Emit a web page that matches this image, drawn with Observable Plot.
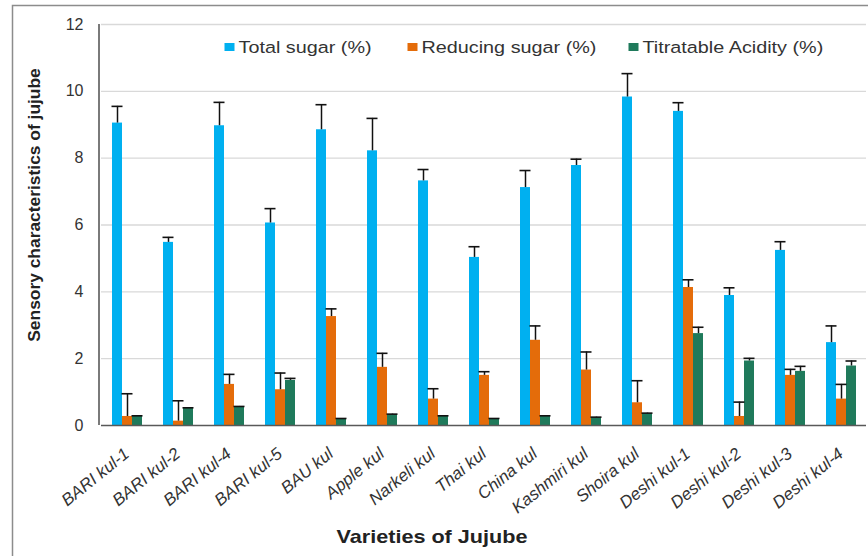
<!DOCTYPE html>
<html>
<head>
<meta charset="utf-8">
<script src="https://cdn.jsdelivr.net/npm/d3@7"></script>
<script src="https://cdn.jsdelivr.net/npm/@observablehq/plot@0.6"></script>
<style>
  html, body { margin: 0; padding: 0; background: #fff; }
  #chart { position: relative; width: 868px; height: 556px; overflow: hidden; }
</style>
</head>
<body>
<div id="chart"></div>
<script>
// Jujube varieties on the x axis
const varieties = [
  "BARI kul-1", "BARI kul-2", "BARI kul-4", "BARI kul-5", "BAU kul",
  "Apple kul", "Narkeli kul", "Thai kul", "China kul", "Kashmiri kul",
  "Shoira kul", "Deshi kul-1", "Deshi kul-2", "Deshi kul-3", "Deshi kul-4"
];
const seriesNames = ["Total sugar (%)", "Reducing sugar (%)", "Titratable Acidity (%)"];
const seriesColors = ["#00b0f0", "#e46c0a", "#1f7a5b"];

// Means and their (upper) error values
const totalSugar    = [9.05, 5.48, 8.97, 6.06, 8.85, 8.22, 7.32, 5.03, 7.12, 7.78, 9.83, 9.40, 3.89, 5.24, 2.48];
const totalSugarErr = [0.50, 0.15, 0.70, 0.43, 0.75, 0.97, 0.34, 0.32, 0.51, 0.19, 0.70, 0.26, 0.23, 0.26, 0.50];
const reducingSugar    = [0.27, 0.13, 1.23, 1.07, 3.26, 1.74, 0.79, 1.50, 2.55, 1.66, 0.68, 4.13, 0.27, 1.50, 0.79];
const reducingSugarErr = [0.68, 0.61, 0.30, 0.50, 0.23, 0.42, 0.31, 0.11, 0.43, 0.54, 0.66, 0.23, 0.43, 0.18, 0.44];
const acidity    = [0.27, 0.51, 0.55, 1.35, 0.19, 0.32, 0.27, 0.19, 0.27, 0.23, 0.35, 2.75, 1.93, 1.62, 1.78];
const acidityErr = [0.02, 0.02, 0.02, 0.06, 0.02, 0.02, 0.02, 0.02, 0.02, 0.02, 0.02, 0.19, 0.08, 0.15, 0.15];

const yTicks = [0, 2, 4, 6, 8, 10, 12];

const seriesValues = [totalSugar, reducingSugar, acidity];
const seriesErrors = [totalSugarErr, reducingSugarErr, acidityErr];

const rows = varieties.flatMap((variety, i) =>
  seriesNames.map((series, s) => ({
    variety,
    series,
    value: seriesValues[s][i],
    top: seriesValues[s][i] + seriesErrors[s][i]
  }))
);

const FONT = "'Liberation Sans', Arial, sans-serif";
const STRETCH = 1.2; // horizontal stretch of the legend and title text

const plot = Plot.plot({
  width: 868,
  height: 556,
  marginLeft: 99,
  marginRight: 0,
  marginTop: 24,
  marginBottom: 131,
  style: { fontFamily: FONT, fontSize: "16px", color: "#333", background: "#fff", overflow: "visible" },
  fx: {
    domain: varieties,
    padding: 0,
    label: null,
    axis: "bottom",
    tickRotate: -39,
    tickSize: 0,
    tickPadding: 26
  },
  x: { domain: seriesNames, axis: null, paddingInner: 0.05, paddingOuter: 0.89 },
  y: { domain: [0, 12], ticks: yTicks, tickSize: 0, tickPadding: 18, label: null },
  color: { domain: seriesNames, range: seriesColors },
  marks: [
    Plot.gridY(yTicks.filter(t => t > 0), { stroke: "#d9d9d9", strokeOpacity: 1, strokeWidth: 1.4 }),
    Plot.barY(rows, { fx: "variety", x: "series", y: "value", fill: "series" }),
    Plot.ruleX(rows, { fx: "variety", x: "series", y1: "value", y2: "top", stroke: "#111", strokeWidth: 1.5 }),
    Plot.tickY(rows, { fx: "variety", x: "series", y: "top", stroke: "#111", strokeWidth: 1.6, insetLeft: -0.5, insetRight: -0.5 }),
    Plot.ruleY([0], { stroke: "#595959", strokeWidth: 1.6 })
  ]
});

document.getElementById("chart").appendChild(plot);

const svg = d3.select(plot);

// Italic variety labels
svg.selectAll("g[aria-label='fx-axis tick label']")
  .attr("font-style", "italic")
  .attr("font-size", 17)
  .selectAll("text")
  .attr("font-style", "italic")
  .attr("font-size", 17);

const y = plot.scale("y");
const fx = plot.scale("fx");
const left = fx.range[0];

// Left axis line
svg.append("line")
  .attr("x1", left).attr("x2", left)
  .attr("y1", y.apply(0)).attr("y2", y.apply(12))
  .attr("stroke", "#595959").attr("stroke-width", 1.6);

// Chart-area border
svg.append("path")
  .attr("d", "M12.5,556 V5.5 H868")
  .attr("fill", "none").attr("stroke", "#8c8c8c").attr("stroke-width", 1.5);

// Legend inside the plot area
const legendItems = [
  { x: 224.5, label: seriesNames[0], color: seriesColors[0] },
  { x: 407.5, label: seriesNames[1], color: seriesColors[1] },
  { x: 628.5, label: seriesNames[2], color: seriesColors[2] }
];
const legend = svg.append("g")
  .attr("font-family", FONT).attr("font-size", 16.5).attr("fill", "#333")
  .attr("text-anchor", "start");
for (const item of legendItems) {
  const g = legend.append("g").attr("transform", `translate(${item.x},0)`);
  g.append("rect").attr("x", 0).attr("y", 43).attr("width", 10).attr("height", 8).attr("fill", item.color);
  g.append("text")
    .attr("text-anchor", "start")
    .attr("transform", `translate(14,53) scale(${STRETCH},1)`)
    .text(item.label);
}

// Axis titles
svg.append("text")
  .attr("transform", `translate(432,543) scale(${STRETCH},1)`)
  .attr("text-anchor", "middle")
  .attr("font-family", FONT).attr("font-weight", "bold").attr("font-size", 18)
  .attr("fill", "#222")
  .text("Varieties of Jujube");

svg.append("text")
  .attr("transform", "translate(40,205) rotate(-90)")
  .attr("text-anchor", "middle")
  .attr("font-family", FONT).attr("font-weight", "bold").attr("font-size", 17.4)
  .attr("fill", "#222")
  .text("Sensory characteristics of jujube");
</script>
</body>
</html>
